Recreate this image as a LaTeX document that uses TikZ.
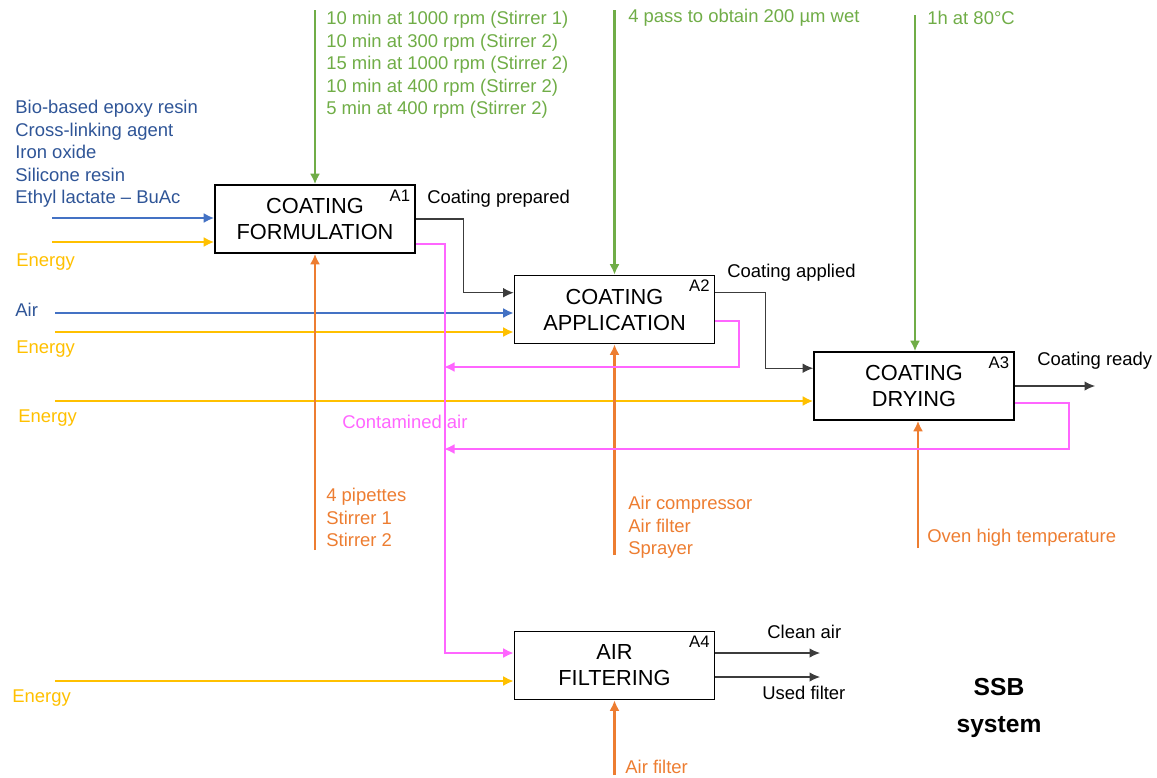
\documentclass[tikz,border=0pt]{standalone}
\usepackage{fontspec}
\setmainfont{Liberation Sans}
\usetikzlibrary{arrows.meta, positioning}
\definecolor{bleuIn}{RGB}{68,114,196}
\definecolor{bleuTxt}{RGB}{47,85,151}
\definecolor{jauneNrj}{RGB}{255,192,0}
\definecolor{orangeMec}{RGB}{237,125,49}
\definecolor{vertCtrl}{RGB}{112,173,71}
\definecolor{roseAir}{RGB}{255,102,255}
\definecolor{griFlux}{RGB}{60,60,60}

\begin{document}
\begin{tikzpicture}[x=0.02cm, y=-0.02cm,
  proc/.style={rectangle, draw=black, line width=0.9pt, fill=white,
    minimum width=4cm, minimum height=1.36cm, align=center,
    font=\fontsize{12.4}{14.8}\selectfont},
  tag/.style={anchor=north east, inner sep=3pt,
    font=\fontsize{9.5}{10}\selectfont},
  arr/.style={-{Latex[length=2.1mm, width=2mm]}, line width=1.15pt},
  flux/.style={-{Latex[length=2.1mm, width=1.9mm]}, line width=0.65pt,
    color=griFlux},
  lbl/.style={inner sep=0pt, align=left,
    font=\fontsize{10.5}{12.8}\selectfont},
]
\useasboundingbox (0,0) rectangle (1157,778);

% activities
\node[proc] (formul) at (315,219)   {COATING\\FORMULATION};
\node[proc] (applic) at (614.5,309.5) {COATING\\APPLICATION};
\node[proc] (drying) at (914,386)   {COATING\\DRYING};
\node[proc] (filtre) at (614.5,665.5) {AIR\\FILTERING};
\node[tag] at (formul.north east) {A1};
\node[tag] at (applic.north east) {A2};
\node[tag] at (drying.north east) {A3};
\node[tag] at (filtre.north east) {A4};

% labels
\node[lbl, anchor=north west, text=bleuTxt] (intrants) at (15,100)
  {Bio-based epoxy resin\\Cross-linking agent\\Iron oxide\\
   Silicone resin\\Ethyl lactate -- BuAc};
\node[lbl, anchor=west, text=bleuTxt] (airTxt) at (15,310) {Air};
\node[lbl, anchor=west, text=jauneNrj] (nrjA) at (16,262) {Energy};
\node[lbl, anchor=west, text=jauneNrj] (nrjB) at (16,349) {Energy};
\node[lbl, anchor=west, text=jauneNrj] (nrjC) at (18,418) {Energy};
\node[lbl, anchor=west, text=jauneNrj] (nrjD) at (12,698) {Energy};
\node[lbl, anchor=north west, text=vertCtrl] (ctrlTxtA) at (326,11)
  {10 min at 1000 rpm (Stirrer 1)\\10 min at 300 rpm (Stirrer 2)\\
   15 min at 1000 rpm (Stirrer 2)\\10 min at 400 rpm (Stirrer 2)\\
   5 min at 400 rpm (Stirrer 2)};
\node[lbl, anchor=west, text=vertCtrl] (ctrlTxtB) at (628,18)
  {4 pass to obtain 200 µm wet};
\node[lbl, anchor=west, text=vertCtrl] (ctrlTxtC) at (927,18)
  {1h at 80°C};
\node[lbl, anchor=north west, text=orangeMec] (mecTxtA) at (326,488)
  {4 pipettes\\Stirrer 1\\Stirrer 2};
\node[lbl, anchor=north west, text=orangeMec] (mecTxtB) at (628,496)
  {Air compressor\\Air filter\\Sprayer};
\node[lbl, anchor=west, text=orangeMec] (mecTxtC) at (927,538)
  {Oven high temperature};
\node[lbl, anchor=west, text=orangeMec] (mecTxtD) at (625,767)
  {Air filter};
\node[lbl, anchor=west] (outA) at (427,199) {Coating prepared};
\node[lbl, anchor=west] (outB) at (727,273) {Coating applied};
\node[lbl, anchor=west] (outC) at (1037,361) {Coating ready};
\node[lbl, anchor=west] (outD) at (767,632) {Clean air};
\node[lbl, anchor=west] (outE) at (762,693) {Used filter};
\node[lbl, anchor=west, text=roseAir] (contam) at (342,422)
  {Contamined air};
\node[align=center, inner sep=0pt,
  font=\fontsize{14}{21}\selectfont\bfseries] (ssb) at (999,708)
  {SSB\\system};

% free ends
\coordinate (resinIn) at (52,218);
\coordinate (nrjInA)  at (52,242);
\coordinate (airIn)   at (55,313);
\coordinate (nrjInB)  at (55,332);
\coordinate (nrjInC)  at (55,401);
\coordinate (nrjInD)  at (55,681);
\coordinate (ctrlA)   at (315,10);
\coordinate (ctrlB)   at (614.5,10);
\coordinate (ctrlC)   at (915,15);
\coordinate (mecA)    at (315,550);
\coordinate (mecB)    at (614.5,555);
\coordinate (mecC)    at (918,548);
\coordinate (mecD)    at (614.5,775);
\coordinate (pret)    at (1095,386);
\coordinate (propre)  at (820,653);
\coordinate (usage)   at (820,677);
\coordinate (retourB) at (444,367);
\coordinate (retourC) at (444,449);

% inputs
\draw[arr, color=bleuIn]   (resinIn) -- (resinIn -| formul.west);
\draw[arr, color=jauneNrj] (nrjInA) -- (nrjInA -| formul.west);
\draw[arr, color=bleuIn]   (airIn) -- (airIn -| applic.west);
\draw[arr, color=jauneNrj] (nrjInB) -- (nrjInB -| applic.west);
\draw[arr, color=jauneNrj] (nrjInC) -- (nrjInC -| drying.west);
\draw[arr, color=jauneNrj] (nrjInD) -- (nrjInD -| filtre.west);

% controls and mechanisms
\draw[arr, color=vertCtrl] (ctrlA) -- (formul.north);
\draw[arr, color=vertCtrl] (ctrlB) -- (applic.north);
\draw[arr, color=vertCtrl] (ctrlC) -- (ctrlC |- drying.north);
\draw[arr, color=orangeMec] (mecA) -- (formul.south);
\draw[arr, color=orangeMec] (mecB) -- (applic.south);
\draw[arr, color=orangeMec] (mecC) -- (mecC |- drying.south);
\draw[arr, color=orangeMec] (mecD) -- (filtre.south);

% outputs
\draw[flux] (formul.east) -- ++(48,0)
  |- ([yshift=-0.36cm]applic.north west);
\draw[flux] ([yshift=-0.36cm]applic.north east) -- ++(50,0)
  |- ([yshift=-0.34cm]drying.north west);
\draw[flux] (drying.east) -- (pret);
\draw[flux] (propre -| filtre.east) -- (propre);
\draw[flux] (usage -| filtre.east) -- (usage);

% contaminated air
\draw[arr, color=roseAir] ([yshift=0.2cm]formul.south east) -- ++(29,0)
  |- ([yshift=0.25cm]filtre.west);
\draw[arr, color=roseAir] ([yshift=-0.23cm]applic.east) -- ++(24,0)
  |- (retourB);
\draw[arr, color=roseAir] ([yshift=-0.34cm]drying.east) -- ++(54,0)
  |- (retourC);
\end{tikzpicture}
\end{document}
